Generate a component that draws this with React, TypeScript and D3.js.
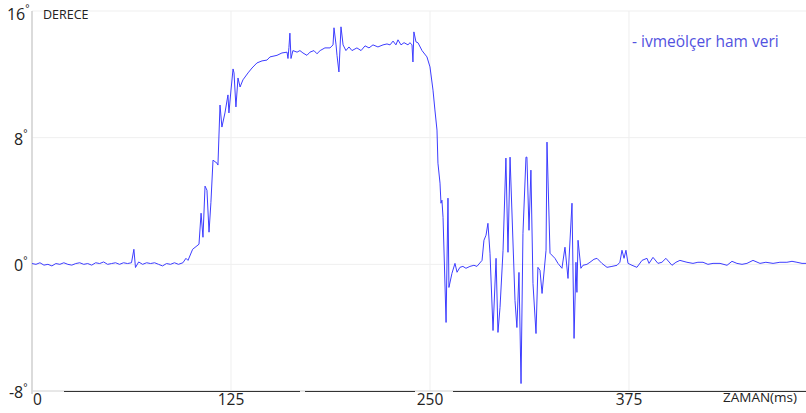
import React from "react";
import * as d3 from "d3";

const W = 806;
const H = 413;

const xTicks = [0, 125, 250, 375];
const yTicks = [-8, 0, 8, 16];
const yLabel = "DERECE";
const xLabel = "ZAMAN(ms)";
const legendLabel = "- ivmeölçer ham veri";

const timeMs = [
  0, 2.5, 5, 7.5, 10, 12.5, 15, 17.5, 20, 22.5, 25, 27.5, 30, 32.5, 35, 37.5, 40, 42.5, 45, 47.5,
  50, 52.5, 55, 57.5, 60, 62.5, 64, 65, 67, 69.5, 72, 74.5, 77, 79.5, 82, 84.5, 87, 89.5, 92,
  94.8, 96.7, 98, 100.9, 104.9, 106.2, 107.4, 108.7, 109.9, 111.2, 112.4, 113.7, 116.2, 116.8,
  118.1, 119.3, 121.2, 123.1, 123.7, 125, 126.3, 126.9, 128.1, 129.4, 130.7, 132.5, 135.7,
  138.2, 141.3, 144.5, 147.6, 149.5, 153.9, 157, 160.2, 160.8, 161.4, 162, 162.7, 163.9, 166.5,
  168.3, 170.2, 172.7, 174.6, 177.1, 179, 181, 184, 187.2, 189.1, 189.7, 191, 191.6, 192.8,
  194.1, 195.4, 197.2, 199.1, 201, 204.1, 206.7, 209.2, 211.7, 214.2, 217.3, 220.5, 223, 224.9,
  226.8, 228.6, 229.9, 231.8, 233.7, 236.2, 237.4, 238.7, 239.3, 239.9, 241.2, 242.5, 245,
  248.1, 250, 251.9, 253.1, 254.4, 255, 256.3, 256.9, 257.5, 258.2, 260.1, 261.3, 261.9, 263.8,
  265.7, 267, 268.8, 270.7, 272.6, 275.1, 277.6, 279.5, 282.7, 283.9, 285.2, 286.4, 287.7,
  289.6, 291.5, 292.7, 294, 295.9, 297.7, 299, 300.3, 303.4, 304.6, 305.9, 307.2, 308.4, 310.3,
  310.9, 312.2, 313.4, 314.7, 316.6, 317.8, 319.1, 320.4, 322.9, 323.5, 325.4, 328.5, 330.4,
  332.9, 334.8, 336.7, 339.2, 340.5, 341.7, 342.3, 343, 344.8, 346.1, 348.6, 350.5, 353, 354.9,
  358, 361.2, 364.3, 367.5, 369.3, 370.6, 371.9, 373.1, 374.4, 376.9, 380, 383.2, 386.3, 387.6,
  390.1, 393.2, 395.7, 398.2, 402, 404.5, 407, 411.4, 415.2, 418.3, 421.5, 424.6, 427.8, 432.2,
  436.6, 439.7, 442.8, 446, 449.1, 452.9, 457.3, 461, 465.5, 469.8, 474.2, 477.4, 480.5, 483.7,
  486.2,
];

const angleDeg = [
  0.05, 0.0, 0.1, -0.05, 0.0, -0.1, 0.05, 0.0, 0.1, 0.0, -0.05, 0.05, 0.1, 0.0, 0.05, -0.05, 0.1, 0.05, 0.15, 0.0,
  0.05, 0.1, 0.0, 0.1, 0.05, 0.1, 0.95, -0.2, 0.15, 0.0, 0.1, 0.05, 0.1, 0.0, -0.1, 0.05, 0.0, 0.1, 0.0,
  0.1, 0.38, 0.25, 0.95, 1.27, 3.23, 1.71, 4.94, 4.68, 2.03, 3.92, 6.58, 6.39, 6.27,
  10.06, 8.67, 9.56, 10.7, 9.56, 11.01, 12.34, 12.09, 9.94, 11.77, 11.2, 11.65, 12.09,
  12.4, 12.72, 12.85, 12.9, 13.1, 13.2, 13.35, 13.4, 13.0, 13.7, 14.6, 13.0, 13.5, 13.4,
  13.5, 13.35, 13.2, 13.4, 13.5, 13.3, 13.5, 13.67, 13.67, 13.86, 14.94, 13.86, 13.2, 12.15,
  15.0, 13.86, 13.5, 13.73, 13.5, 13.67, 13.5, 13.8, 13.67, 13.86, 13.73, 13.86, 13.92, 13.86,
  14.1, 13.86, 14.18, 13.86, 14.0, 13.86, 14.0, 13.86, 12.78, 14.68, 14.05, 13.99, 13.5,
  13.1, 12.47, 11.0, 9.75, 8.48, 6.39, 5.13, 3.86, 4.05, 2.97, -3.67, 4.18, -1.46, -0.57,
  0.06, -0.5, -0.19, -0.13, -0.25, -0.13, -0.06, -0.13, 0.25, 1.52, 1.84, 2.59, 0.7,
  -4.18, 0.38, -4.3, -2.72, 0.89, 6.71, 0.76, 6.77, -2.28, -3.99, -0.51, -7.53, 1.96, 6.77,
  6.77, 2.15, 5.95, -1.2, -4.37, -0.19, -0.38, -1.84, 0.89, 7.72, 0.7, 0.38, 0.06,
  -0.25, 1.08, -0.89, 3.86, -4.68, 0.13, -1.77, 1.52, -0.25, -0.06, 0.0, 0.13, 0.32, 0.38,
  0.06, -0.19, -0.13, -0.06, 0.13, 0.89, 0.38, 0.89, 0.06, -0.06, -0.19, 0.25, 0.38, 0.06,
  0.44, 0.06, 0.13, 0.38, -0.06, 0.13, 0.25, 0.13, 0.06, 0.13, 0.13, 0.0, 0.06, 0.06,
  -0.06, 0.19, 0.06, 0.0, 0.06, 0.25, 0.06, 0.13, 0.06, 0.13, 0.13, 0.19, 0.13, 0.06,
  0.06,
];

const FONT = "'Open Sans', 'Noto Sans', sans-serif";

export default function App() {
  const x = d3.scaleLinear().domain([0, 486.2]).range([32, 806]);
  const y = d3.scaleLinear().domain([-8, 16]).range([391, 11]);
  const data = timeMs.map((t, i) => [t, angleDeg[i]] as [number, number]);
  const line = d3
    .line<[number, number]>()
    .x((d) => x(d[0]))
    .y((d) => y(d[1]));

  return (
    <svg
      width={W}
      height={H}
      style={{ position: "absolute", left: 0, top: 0, background: "#fff" }}
      fontFamily={FONT}
    >
      {yTicks.map((v) => (
        <line key={"gy" + v} x1={x(0)} x2={W} y1={y(v)} y2={y(v)} stroke="#efefef" strokeWidth={1} />
      ))}
      {xTicks.slice(1).map((v) => (
        <line key={"gx" + v} x1={x(v)} x2={x(v)} y1={y(16)} y2={y(-8)} stroke="#efefef" strokeWidth={1} />
      ))}
      <line x1={x(0)} x2={x(0)} y1={y(16)} y2={y(-8) + 3} stroke="#cfcfcf" strokeWidth={1.5} />
      <line x1={x(0)} x2={W} y1={y(-8)} y2={y(-8)} stroke="#d8d8d8" strokeWidth={1} />
      <line x1={64} x2={300} y1={y(-8) + 0.5} y2={y(-8) + 0.5} stroke="#333" strokeWidth={1} />
      <line x1={305} x2={415} y1={y(-8) + 0.5} y2={y(-8) + 0.5} stroke="#333" strokeWidth={1} />
      <line x1={453} x2={W} y1={y(-8) + 0.5} y2={y(-8) + 0.5} stroke="#333" strokeWidth={1} />

      <path d={line(data) || ""} fill="none" stroke="#3d3dff" strokeWidth={1} strokeLinejoin="round" />

      {yTicks.map((v) => (
        <text
          key={"ty" + v}
          x={v === 16 ? 29.5 : 27.5}
          y={v === 16 ? 19.5 : y(v) + 7}
          fontSize={16}
          fill="#222"
          textAnchor="end"
        >
          {v}
          <tspan fontSize={10} dy={-7.5}>°</tspan>
        </text>
      ))}
      {xTicks.map((v) => (
        <text
          key={"tx" + v}
          x={v === 0 ? x(0) + 1 : x(v)}
          y={405}
          fontSize={15.5}
          fill="#222"
          textAnchor={v === 0 ? "start" : "middle"}
        >
          {v}
        </text>
      ))}
      <text x={43} y={19} fontSize={12.5} fill="#222">
        {yLabel}
      </text>
      <text x={797} y={402} fontSize={13.5} fill="#222" textAnchor="end">
        {xLabel}
      </text>
      <text x={632} y={46.5} fontSize={15.5} fill="#5252e0">
        {legendLabel}
      </text>
    </svg>
  );
}
